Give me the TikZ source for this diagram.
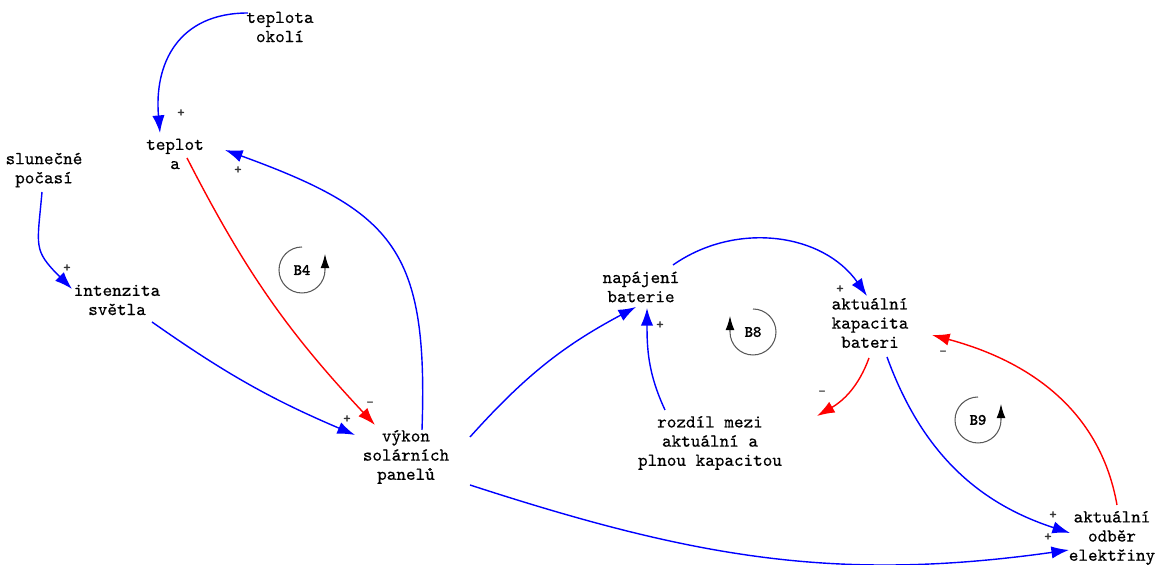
\documentclass[tikz,border=0pt]{standalone}
\usepackage{fontspec}
\newfontfamily\varfont{Latin Modern Mono}[FakeBold=0.5]
\newfontfamily\loopfont{Latin Modern Mono}[FakeBold=1.8]
\usetikzlibrary{arrows.meta,calc}

\begin{document}
\begin{tikzpicture}[
    var/.style={font=\varfont\fontsize{10.4}{10.9}\selectfont, align=center, inner sep=1pt},
    pol/.style={font=\varfont\fontsize{8}{8}\selectfont, inner sep=0pt, text=black!80},
    poslink/.style={blue, line width=0.8pt, -{Latex[length=10pt,width=7pt]}},
    neglink/.style={red, line width=0.8pt, -{Latex[length=10pt,width=7pt]}},
    loopname/.style={font=\loopfont\fontsize{9}{9}\selectfont, inner sep=0pt},
    looparrow/.style={black!65, line width=0.6pt, -{Latex[length=8pt,width=5pt,color=black]}}
]
    \useasboundingbox (0,0) rectangle (23.14,11.3);

    % Variables
    \node[var] (okoli) at (5.6,10.76) {teplota\\okolí};
    \node[var] (teplota) at (3.5,8.22) {teplot\\a};
    \node[var] (pocasi) at (0.88,7.9) {slunečné\\počasí};
    \node[var] (intenzita) at (2.34,5.3) {intenzita\\světla};
    \node[var] (vykon) at (8.12,2.16) {výkon\\solárních\\panelů};
    \node[var] (napajeni) at (12.82,5.56) {napájení\\baterie};
    \node[var] (rozdil) at (14.2,2.44) {rozdíl mezi\\aktuální a\\plnou kapacitou};
    \node[var] (kapacita) at (17.4,4.84) {aktuální\\kapacita\\bateri};
    \node[var] (odber) at (22.24,0.54) {aktuální\\odběr\\elektřiny};
    \coordinate (volny) at (16.34,2.98);

    % Links
    \draw[poslink] ($(okoli)+(-0.64,0.28)$) to[out=180,in=95,looseness=1.2] ($(teplota)+(-0.3,0.42)$);
    \draw[poslink] ($(vykon)+(0.32,0.54)$) to[out=88,in=-20,looseness=1.35] ($(teplota)+(1.0,0.08)$);
    \draw[neglink] ($(teplota)+(0.24,-0.08)$) to[bend right=8] ($(vykon)+(-0.62,0.64)$);
    \draw[poslink] ($(pocasi)+(-0.04,-0.44)$) to[out=-95,in=135,looseness=1.4] ($(intenzita)+(-0.9,0.22)$);
    \draw[poslink] ($(intenzita)+(0.7,-0.44)$) to[bend right=6] ($(vykon)+(-1.02,0.44)$);
    \draw[poslink] ($(vykon)+(1.28,0.4)$) to[bend left=10] ($(napajeni)+(-0.1,-0.4)$);
    \draw[poslink] ($(rozdil)+(-0.9,0.66)$) to[out=115,in=-90] ($(napajeni)+(0.12,-0.42)$);
    \draw[poslink] ($(napajeni)+(0.64,0.44)$) to[out=35,in=125] ($(kapacita)+(-0.06,0.54)$);
    \draw[neglink] ($(kapacita)+(-0.02,-0.7)$) to[out=-110,in=30] (volny);
    \draw[poslink] ($(kapacita)+(0.34,-0.68)$) to[out=-70,in=162] ($(odber)+(-0.84,0.1)$);
    \draw[neglink] ($(odber)+(0.1,0.66)$) to[out=100,in=-15] ($(kapacita)+(1.24,-0.24)$);
    \draw[poslink] ($(vykon)+(1.28,-0.56)$) to[out=-18,in=188] ($(odber)+(-0.86,-0.24)$);

    % Polarities
    \node[pol] (s1) at (3.62,9.04) {+};
    \node[pol] (s2) at (4.76,7.9) {+};
    \node[pol] (s3) at (7.4,3.22) {-};
    \node[pol] (s4) at (1.34,5.94) {+};
    \node[pol] (s5) at (6.94,2.92) {+};
    \node[pol] (s6) at (13.2,4.8) {+};
    \node[pol] (s7) at (16.8,5.52) {+};
    \node[pol] (s8) at (16.44,3.44) {-};
    \node[pol] (s9) at (21.06,1.0) {+};
    \node[pol] (s10) at (18.86,4.24) {-};
    \node[pol] (s11) at (20.96,0.56) {+};

    % Loops
    \node[loopname] (b4) at (6.04,5.9) {B4};
    \draw[looparrow] ([shift={(90:0.46)}]b4.center) arc (90:360:0.46) -- ++(0,0.32);
    \node[loopname] (b8) at (15.06,4.66) {B8};
    \draw[looparrow] ([shift={(90:0.46)}]b8.center) arc (90:-180:0.46) -- ++(0,0.32);
    \node[loopname] (b9) at (19.56,2.9) {B9};
    \draw[looparrow] ([shift={(90:0.46)}]b9.center) arc (90:360:0.46) -- ++(0,0.32);
\end{tikzpicture}
\end{document}
